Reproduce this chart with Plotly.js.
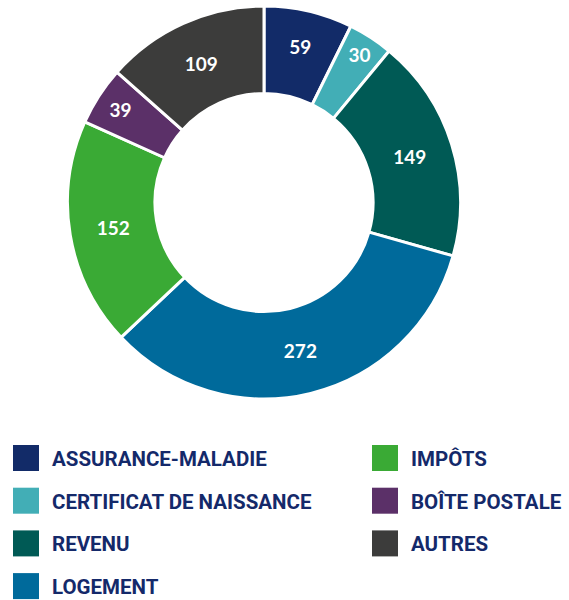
<!DOCTYPE html>
<html>
<head>
<meta charset="utf-8">
<script src="https://cdn.plot.ly/plotly-3.0.1.min.js"></script>
<style>html,body{margin:0;padding:0;background:#fff;}#chart{width:569px;height:600px;}</style>
</head>
<body>
<div id="chart"></div>
<script>
const labels = ["ASSURANCE-MALADIE", "CERTIFICAT DE NAISSANCE", "REVENU", "LOGEMENT", "IMPÔTS", "BOÎTE POSTALE", "AUTRES"];
const values = [59, 30, 149, 272, 152, 39, 109];
const colors = ["#122b68", "#42aeb6", "#005a55", "#006a9b", "#3aaa35", "#5b3068", "#3c3c3b"];
const legendColumn = [0, 0, 0, 0, 1, 1, 1];
const legendRow = [0, 1, 2, 3, 0, 1, 2];

const W = 569, H = 600;
const px = x => x / W;
const py = y => 1 - y / H;

const shapes = [];
const annotations = [];
const colX = [13, 372];
const rowY0 = 445, rowStep = 42.7, sqW = 26, sqH = 26;
labels.forEach((lab, i) => {
  const x0 = colX[legendColumn[i]];
  const y0 = rowY0 + legendRow[i] * rowStep;
  shapes.push({type: "rect", xref: "paper", yref: "paper",
    x0: px(x0), x1: px(x0 + sqW), y0: py(y0 + sqH), y1: py(y0),
    fillcolor: colors[i], line: {width: 0}});
  annotations.push({xref: "paper", yref: "paper", x: px(x0 + 37), y: py(y0 + sqH / 2 + 1),
    xanchor: "left", yanchor: "middle", showarrow: false, text: lab,
    font: {family: "Roboto", size: 20.5, color: "#14296a", weight: 700}});
});

const trace = {
  type: "pie",
  labels: labels,
  values: values,
  sort: false,
  direction: "clockwise",
  rotation: 0,
  hole: 0.555,
  marker: {colors: colors, line: {color: "#ffffff", width: 3}},
  textinfo: "value",
  textposition: "inside",
  insidetextorientation: "horizontal",
  textfont: {family: "Lato", size: 19, color: "#ffffff", weight: 700},
  domain: {x: [px(67.5), px(460.5)], y: [py(400), py(5)]},
  showlegend: false
};

Plotly.newPlot("chart", [trace], {
  width: W, height: H,
  margin: {l: 0, r: 0, t: 0, b: 0},
  paper_bgcolor: "#ffffff",
  showlegend: false,
  shapes: shapes,
  annotations: annotations
}, {displayModeBar: false});
</script>
</body>
</html>
